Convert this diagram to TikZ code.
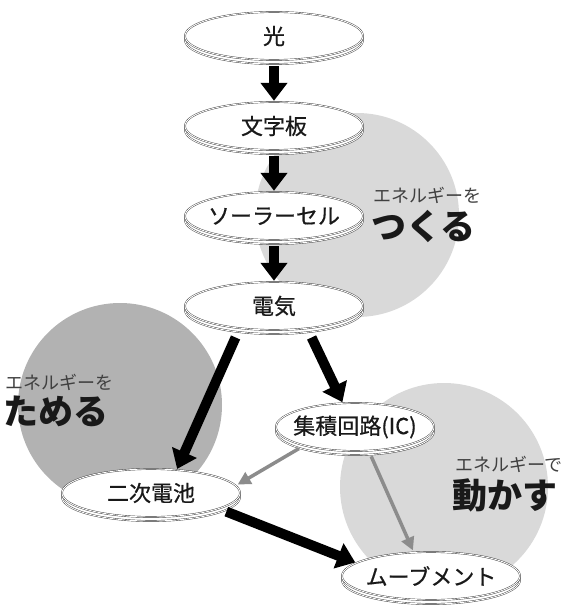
\documentclass[tikz,border=0pt]{standalone}
\usepackage{fontspec}
\newfontfamily\jp{Noto Sans CJK JP}
\newfontfamily\jpmed{Noto Sans CJK JP}[FakeBold=0.6]
\usetikzlibrary{shapes.geometric,shadows,arrows.meta}
\tikzset{
  disk/.style={ellipse, draw=black!80, line width=0.4pt, double=white, double distance=0.9pt,
    fill=white, inner sep=0pt, minimum width=178pt, minimum height=48pt,
    text=black!90, font=\jpmed\fontsize{22}{22}\selectfont,
    general shadow={shadow xshift=0pt, shadow yshift=-4pt, fill=white, draw=black!80,
      line width=0.4pt, double=white, double distance=0.9pt}},
  bigarrow/.style={line width=10pt, -{Triangle[width=26pt,length=18pt]}},
  grayarrow/.style={draw=black!45, line width=3.5pt, -{Triangle[width=13pt,length=13pt]}},
  small/.style={anchor=west, inner sep=0pt, text=black!75, font=\jp\fontsize{18}{18}\selectfont},
  big/.style={anchor=west, inner sep=0pt, text=black!90, font=\jp\bfseries\fontsize{35}{35}\selectfont}
}
\newcommand{\lbl}[1]{\makebox[0pt]{#1}}
\begin{document}
\begin{tikzpicture}[x=1pt,y=-1pt]
      \useasboundingbox (0,0) rectangle (573,612);
      \fill[black!15] (357,215) circle (102);
      \fill[black!30] (120,405) circle (102);
      \fill[black!15] (444,487) circle (104);
      \node[small] (makesub) at (373,195) {エネルギーを};
      \node[big] (make) at (371,226) {つくる};
      \node[small] (storesub) at (5,382) {エネルギーを};
      \node[big] (store) at (3,411) {ためる};
      \node[small] (movesub) at (455,464) {エネルギーで};
      \node[big] (drive) at (452,495) {動かす};
      \node[disk] (light) at (274,36) {\lbl{光}};
      \node[disk] (board) at (274,126) {\lbl{文字板}};
      \node[disk] (solar) at (274,216) {\lbl{ソーラーセル}};
      \node[disk] (elec) at (274,306) {\lbl{電気}};
      \node[disk, minimum width=158pt] (ic) at (355,427) {\lbl{集積回路(IC)}};
      \node[disk] (batt) at (151,493) {\lbl{二次電池}};
      \node[disk] (move) at (431,576) {\lbl{ムーブメント}};
      \draw[bigarrow, shorten <=6pt, shorten >=1pt] (light.south) -- (board.north);
      \draw[bigarrow, shorten <=6pt, shorten >=1pt] (board.south) -- (solar.north);
      \draw[bigarrow, shorten <=6pt, shorten >=1pt] (solar.south) -- (elec.north);
      \draw[bigarrow, shorten <=10pt, shorten >=1pt] (elec.213) -- (batt.42);
      \draw[bigarrow, shorten <=10pt, shorten >=1pt] (elec.326) -- (ic.117);
      \draw[bigarrow, shorten <=8pt, shorten >=1pt] (batt.347) -- (move.170);
      \draw[grayarrow, shorten <=6pt, shorten >=2pt] (ic.200) -- (batt.5);
      \draw[grayarrow, shorten <=6pt, shorten >=2pt] (ic.300) -- (move.126);
    \end{tikzpicture}
\end{document}
